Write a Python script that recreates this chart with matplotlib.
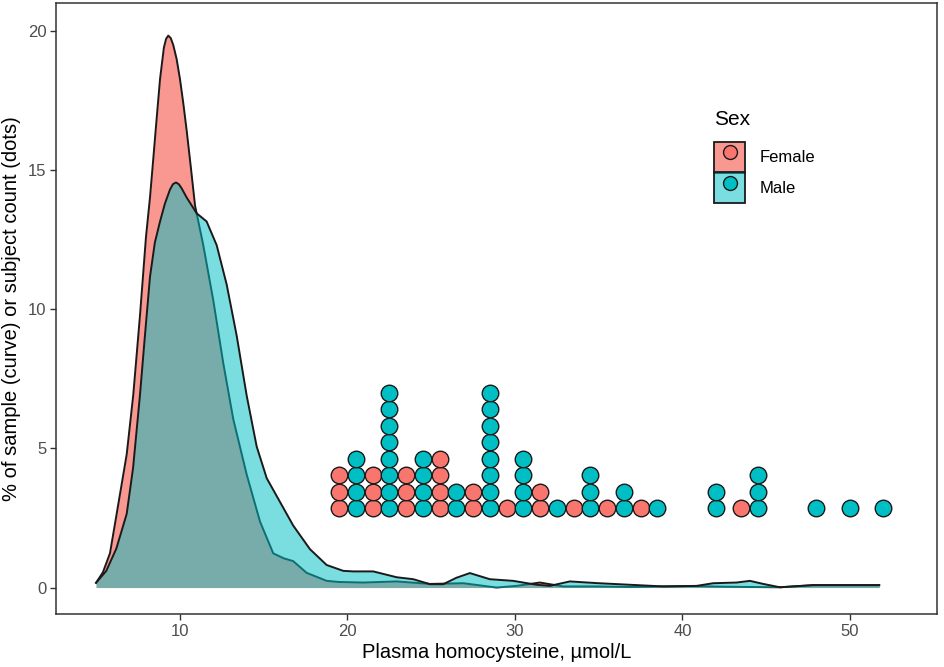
import numpy as np
import matplotlib.pyplot as plt
from matplotlib.patches import Patch
from matplotlib.lines import Line2D
from matplotlib.legend_handler import HandlerTuple

plt.rcParams['font.family'] = ['Liberation Sans', 'DejaVu Sans']

# density curves (x in umol/L, y in %)
female_x = [4.99, 5.4, 5.82, 6.22, 6.82, 7.21, 7.61, 7.97, 8.21, 8.41, 8.62, 8.81, 9.04, 9.17, 9.30,
            9.45, 9.6, 9.8, 10.0, 10.2, 10.4, 10.65, 10.9, 11.39, 11.99, 12.59, 13.18, 13.98, 14.78,
            15.57, 16.2, 16.76, 17.56, 18.76, 19.5, 20.95, 22.94, 24.93, 26.92, 28.9, 30.1, 31.49,
            32.88, 34.87, 36.86, 38.86, 40.85, 42.5, 44.0, 45.82, 47.81, 49.8, 51.75]
female_y = [0.17, 0.55, 1.23, 2.65, 4.79, 6.92, 9.76, 12.6, 14.02, 15.44, 16.95, 18.28, 19.41, 19.72, 19.84,
            19.75, 19.5, 19.0, 18.28, 17.4, 16.43, 15.1, 13.73, 12.31, 10.32, 8.05, 6.06, 4.07, 2.37,
            1.23, 1.05, 0.95, 0.53, 0.24, 0.2, 0.18, 0.22, 0.13, 0.155, 0.0, 0.06, 0.18,
            0.04, 0.04, 0.02, 0.04, 0.05, 0.03, 0.02, 0.01, 0.08, 0.08, 0.08]

male_x = [4.99, 5.6, 6.2, 6.82, 7.2, 7.61, 7.9, 8.21, 8.5, 8.81, 9.10, 9.40, 9.58, 9.76, 9.93, 10.1,
          10.4, 11.0, 11.59, 12.19, 12.79, 13.39, 13.98, 14.58, 15.18, 15.97, 16.76, 17.76, 18.76,
          19.75, 20.35, 21.54, 22.94, 23.93, 24.93, 25.72, 26.5, 27.31, 28.5, 29.9, 31.29,
          32.09, 33.28, 34.87, 36.86, 38.86, 40.85, 41.84, 43.23, 44.03, 44.83, 45.82, 47.81, 51.75]
male_y = [0.17, 0.6, 1.4, 2.65, 4.3, 6.91, 9.0, 11.17, 12.4, 13.16, 13.8, 14.3, 14.5, 14.56, 14.5, 14.35,
          14.02, 13.45, 13.16, 12.31, 10.89, 9.04, 6.91, 5.07, 3.93, 3.08, 2.23, 1.38, 0.81,
          0.6, 0.58, 0.58, 0.37, 0.30, 0.12, 0.12, 0.35, 0.52, 0.30, 0.24, 0.10,
          0.06, 0.22, 0.16, 0.10, 0.04, 0.06, 0.155, 0.18, 0.24, 0.13, 0.01, 0.09, 0.09]

# dot columns: position and number of stacked dots
female_dot_x = [19.5, 21.5, 23.5, 25.5, 27.5, 29.5, 31.5, 33.5, 35.5, 37.5, 43.5]
female_dot_n = [3, 3, 3, 4, 2, 1, 2, 1, 1, 1, 1]
male_dot_x = [20.5, 22.5, 24.5, 26.5, 28.5, 30.5, 32.5, 34.5, 36.5, 38.5, 42.0, 44.5, 48.0, 50.0, 52.0]
male_dot_n = [4, 8, 4, 2, 8, 4, 1, 3, 2, 1, 2, 3, 1, 1, 1]

pink = '#F8766D'
teal = '#00BFC4'
outline = '#1a1a1a'

fig = plt.figure(figsize=(9.45, 6.67), dpi=100)
ax = fig.add_axes([0.0593, 0.0795, 0.9322, 0.9155])

ax.fill_between(female_x, female_y, 0, color=pink, alpha=0.75, lw=0, zorder=1)
ax.plot(female_x, female_y, color=outline, lw=1.4, zorder=2)
ax.fill_between(male_x, male_y, 0, color=teal, alpha=0.52, lw=0, zorder=3)
ax.plot(male_x, male_y, color=outline, lw=1.4, zorder=4)

base, step = 2.85, 0.594
def stack(xs, ns):
    px, py = [], []
    for x, n in zip(xs, ns):
        for k in range(n):
            px.append(x)
            py.append(base + k * step)
    return px, py

fx, fy = stack(female_dot_x, female_dot_n)
mx, my = stack(male_dot_x, male_dot_n)
ax.scatter(fx, fy, s=142, c=pink, edgecolors=outline, linewidths=1.0, zorder=5)
ax.scatter(mx, my, s=142, c=teal, edgecolors=outline, linewidths=1.0, zorder=5)

ax.set_xlim(2.6, 55.2)
ax.set_ylim(-0.95, 21.0)
ax.set_xticks([10, 20, 30, 40, 50])
ax.set_yticks([0, 5, 10, 15, 20])
ax.tick_params(length=4, width=1, color='#333333', labelcolor='#4D4D4D', labelsize=12, pad=3)
for s in ax.spines.values():
    s.set_color('#333333')
    s.set_linewidth(1.1)

ax.set_xlabel('Plasma homocysteine, µmol/L', fontsize=14.5, labelpad=3)
ax.set_ylabel('% of sample (curve) or subject count (dots)', fontsize=14.5, labelpad=5)

handles = [
    (Patch(facecolor=pink, alpha=0.75, edgecolor='none'),
     Patch(facecolor='none', edgecolor=outline, lw=1.3),
     Line2D([], [], ls='', marker='o', ms=10, mfc=pink, mec=outline, mew=1.0)),
    (Patch(facecolor=teal, alpha=0.52, edgecolor='none'),
     Patch(facecolor='none', edgecolor=outline, lw=1.3),
     Line2D([], [], ls='', marker='o', ms=10, mfc=teal, mec=outline, mew=1.0)),
]
leg = ax.legend(handles, ['Female', 'Male'], title='Sex',
                handler_map={tuple: HandlerTuple(ndivide=1, pad=0)},
                loc='upper left', bbox_to_anchor=(0.747, 0.825), frameon=False,
                fontsize=12, title_fontsize=15, handlelength=1.85, handleheight=2.5,
                handletextpad=0.9, labelspacing=-0.04, borderaxespad=0, borderpad=0)
leg._legend_box.align = 'left'
leg._legend_box.sep = 9

fig.savefig('out.png', dpi=100)
